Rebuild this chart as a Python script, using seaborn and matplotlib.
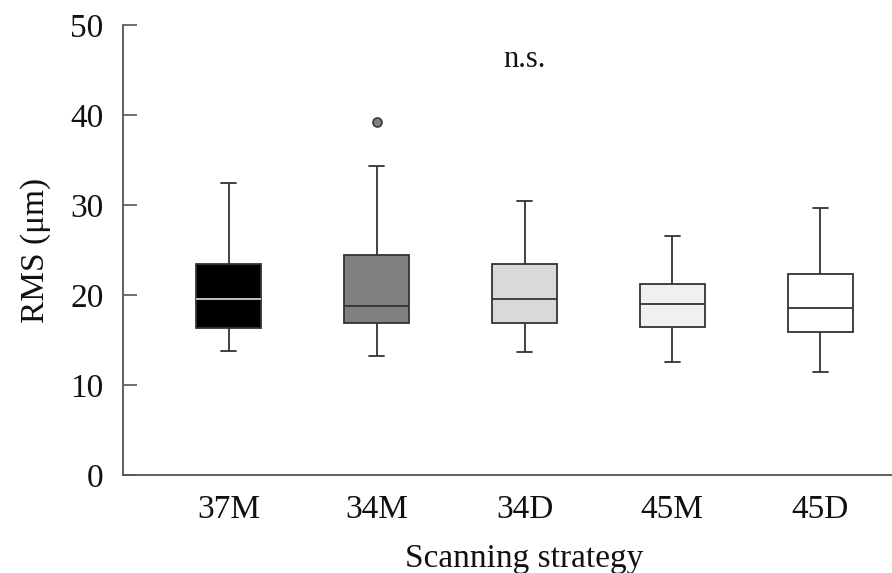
import numpy as np
import pandas as pd
import matplotlib
matplotlib.use("Agg")
import matplotlib.pyplot as plt
import seaborn as sns

# Five-number summaries
categories = ["37M", "34M", "34D", "45M", "45D"]
whisker_low = [13.8, 13.2, 13.7, 12.6, 11.4]
q1 = [16.3, 16.9, 16.9, 16.5, 15.9]
median = [19.6, 18.8, 19.6, 19.0, 18.6]
q3 = [23.4, 24.5, 23.4, 21.2, 22.3]
whisker_high = [32.4, 34.3, 30.5, 26.6, 29.7]
outliers = [[], [39.2], [], [], []]
fills = ["#000000", "#808080", "#d9d9d9", "#f0f0f0", "#ffffff"]

# Build sample sets that reproduce each summary exactly (9 points, linear quantiles)
rows = []
for c, lo, a, m, b, hi, out in zip(categories, whisker_low, q1, median, q3, whisker_high, outliers):
    vals = [lo, a, a, m, m, b, b, hi] + (out if out else [hi])
    for v in vals:
        rows.append({"strategy": c, "rms": v})
df = pd.DataFrame(rows)

sns.set_style("white")
plt.rcParams["font.family"] = ["Liberation Serif", "DejaVu Serif"]

fig = plt.figure(figsize=(8.92, 5.73), dpi=100)
ax = fig.add_axes([123 / 892, 1 - 475 / 573, (926 - 123) / 892, (475 - 25) / 573])

sns.boxplot(data=df, x="strategy", y="rms", hue="strategy", order=categories,
            hue_order=categories, palette=fills, legend=False, ax=ax,
            width=0.44, linecolor="#333333", linewidth=1.3, whis=1.5,
            flierprops=dict(marker="o", markersize=6.5, markerfacecolor="#808080",
                            markeredgecolor="#3c3c3c", markeredgewidth=1.2),
            capwidths=0.1)

# median of the black box drawn in light gray
for ln in ax.lines:
    xd = np.asarray(ln.get_xdata(), dtype=float)
    yd = np.asarray(ln.get_ydata(), dtype=float)
    if len(xd) == 2 and np.allclose(yd, median[0]) and np.all(np.abs(xd) < 0.3):
        ln.set_color("#d0d0d0")

for p in ax.patches:
    p.set_edgecolor("#333333")

ax.set_xlim(-0.716, 4.716)
ax.set_ylim(0, 50)
ax.set_yticks([0, 10, 20, 30, 40, 50])
sns.despine(ax=ax)
for s in ["left", "bottom"]:
    ax.spines[s].set_color("#555555")
    ax.spines[s].set_linewidth(1.3)

ax.tick_params(axis="y", direction="in", length=10, width=1.2, color="#555555",
               labelsize=24, pad=14, left=True, labelcolor="#111111")
ax.tick_params(axis="x", length=0, labelsize=24, pad=14, labelcolor="#111111")

ax.set_xlabel("Scanning strategy", fontsize=24, labelpad=13, color="#111111")
ax.set_ylabel("RMS (\u03bcm)", fontsize=24, labelpad=14, color="#111111")

ax.text(2, 46.2, "n.s.", ha="center", va="center", fontsize=22, color="#111111")

fig.savefig("out.png", dpi=100)
